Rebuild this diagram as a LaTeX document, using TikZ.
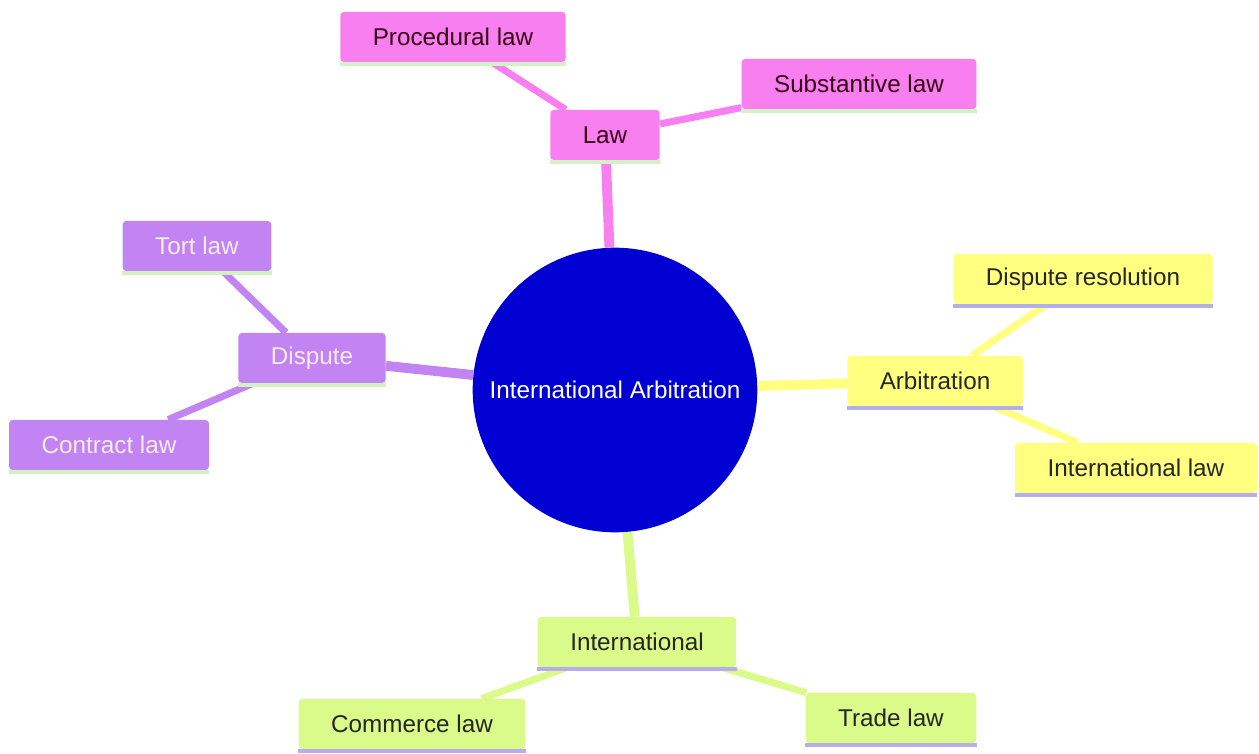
\documentclass[tikz,border=0pt]{standalone}
\usepackage{fontspec}
\setmainfont{Liberation Sans}
\usepackage{tikz}
\usetikzlibrary{backgrounds}

\definecolor{lawpink}{HTML}{F77FF0}
\definecolor{disppurple}{HTML}{C184F2}
\definecolor{arbyellow}{HTML}{FFFF80}
\definecolor{intgreen}{HTML}{DAFA8A}
\definecolor{hubblue}{HTML}{0000D2}
\definecolor{ulgreen}{HTML}{D2F2C4}
\definecolor{ullav}{HTML}{B4AEEA}

\begin{document}
\begin{tikzpicture}[x=0.02cm,y=-0.02cm,
    topic/.style={rounded corners=2pt,minimum height=28.5pt,inner xsep=18.5pt,
      font=\fontsize{13.8}{16}\selectfont},
    lawbox/.style={topic,fill=lawpink,text=black!70!purple},
    dispbox/.style={topic,fill=disppurple,text=white!92!purple},
    arbbox/.style={topic,fill=arbyellow,text=black!85},
    intbox/.style={topic,fill=intgreen,text=black!85},
    branch/.style={line width=5.6pt},
    twig/.style={line width=4pt}]
    \useasboundingbox (0,0) rectangle (1259,754);

    % Hub
    \node[circle,fill=hubblue,minimum size=162pt,text=white,
      font=\fontsize{13.8}{16}\selectfont] (hub) at (615,390) {International Arbitration};

    % Law branch (top)
    \node[lawbox] (law) at (605,135) {Law};
    \node[lawbox] (proc) at (453,37) {Procedural law};
    \node[lawbox] (subst) at (859,84) {Substantive law};

    % Dispute branch (left)
    \node[dispbox] (disp) at (312,358) {Dispute};
    \node[dispbox] (tort) at (197,246) {Tort law};
    \node[dispbox] (contract) at (109,445) {Contract law};

    % Arbitration branch (right)
    \node[arbbox] (arb) at (935,381) {Arbitration};
    \node[arbbox] (resol) at (1083,279) {Dispute resolution};
    \node[arbbox] (intlaw) at (1136,468) {International law};

    % International branch (bottom)
    \node[intbox] (intl) at (637,642) {International};
    \node[intbox] (commerce) at (412,724) {Commerce law};
    \node[intbox] (trade) at (891,718) {Trade law};

    % Underlines of the boxes
    \foreach \n/\c in {law/ulgreen,proc/ulgreen,subst/ulgreen,
        disp/ulgreen,tort/ulgreen,contract/ulgreen,
        arb/ullav,resol/ullav,intlaw/ullav,
        intl/ullav,commerce/ullav,trade/ullav}
      \draw[line width=2pt,\c] ([yshift=-1pt]\n.south west) -- ([yshift=-1pt]\n.south east);

    % Connectors
    \begin{pgfonlayer}{background}
      \draw[branch,lawpink] (hub) -- (law);
      \draw[branch,disppurple] (hub) -- (disp);
      \draw[branch,arbyellow] (hub) -- (arb);
      \draw[branch,intgreen] (hub) -- (intl);
      \draw[twig,lawpink] (law) -- (proc);
      \draw[twig,lawpink] (law) -- (subst);
      \draw[twig,disppurple] (disp) -- (tort);
      \draw[twig,disppurple] (disp) -- (contract);
      \draw[twig,arbyellow] (arb) -- (resol);
      \draw[twig,arbyellow] (arb) -- (intlaw);
      \draw[twig,intgreen] (intl) -- (commerce);
      \draw[twig,intgreen] (intl) -- (trade);
    \end{pgfonlayer}
\end{tikzpicture}
\end{document}
